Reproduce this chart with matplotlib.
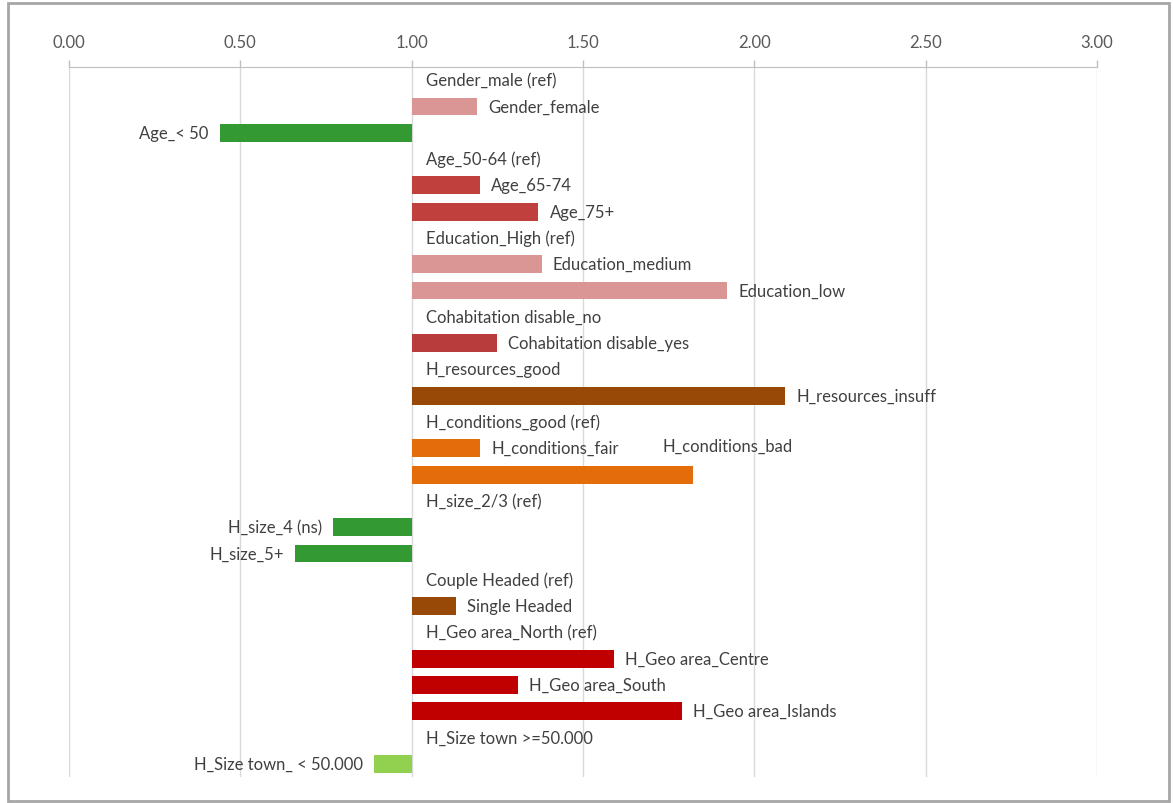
import matplotlib.pyplot as plt
from matplotlib.patches import Rectangle

plt.rcParams['font.family'] = ['Lato', 'DejaVu Sans']

# odds ratios, 1.00 = reference category (no bar drawn)
labels = [
    'Gender_male (ref)', 'Gender_female',
    'Age_< 50', 'Age_50-64 (ref)', 'Age_65-74', 'Age_75+',
    'Education_High (ref)', 'Education_medium', 'Education_low',
    'Cohabitation disable_no', 'Cohabitation disable_yes',
    'H_resources_good', 'H_resources_insuff',
    'H_conditions_good (ref)', 'H_conditions_fair', 'H_conditions_bad',
    'H_size_2/3 (ref)', 'H_size_4 (ns)', 'H_size_5+',
    'Couple Headed (ref)', 'Single Headed',
    'H_Geo area_North (ref)', 'H_Geo area_Centre', 'H_Geo area_South', 'H_Geo area_Islands',
    'H_Size town >=50.000', 'H_Size town_ < 50.000',
]
odds = [
    1.00, 1.19,
    0.44, 1.00, 1.20, 1.37,
    1.00, 1.38, 1.92,
    1.00, 1.25,
    1.00, 2.09,
    1.00, 1.20, 1.82,
    1.00, 0.77, 0.66,
    1.00, 1.13,
    1.00, 1.59, 1.31, 1.79,
    1.00, 0.89,
]
colors = [
    'none', '#DA9694',
    '#339933', 'none', '#C0403E', '#C0403E',
    'none', '#DA9694', '#DA9694',
    'none', '#B83C3C',
    'none', '#984807',
    'none', '#E46C0A', '#E46C0A',
    'none', '#339933', '#339933',
    'none', '#984807',
    'none', '#C00000', '#C00000', '#C00000',
    'none', '#92D050',
]
ticks = [0.0, 0.5, 1.0, 1.5, 2.0, 2.5, 3.0]

fig = plt.figure(figsize=(11.73, 8.04), dpi=100)
fig.patches.append(Rectangle((8 / 1173, 2 / 804), 1161 / 1173, 798 / 804,
                             transform=fig.transFigure, fill=False,
                             edgecolor='#A6A6A6', linewidth=2))

ax = fig.add_axes([69 / 1173, 1 - 778 / 804, 1028 / 1173, 710 / 804])
rows = list(range(len(labels)))
ax.barh(rows, [v - 1 for v in odds], left=1, height=0.68, color=colors, zorder=2)

txt = dict(fontsize=12, color='#404040', va='center')
for i, (lab, v) in enumerate(zip(labels, odds)):
    if lab == 'H_conditions_bad':
        ax.annotate(lab, (v, i), xytext=(-22, 21), textcoords='offset points', ha='left', **txt)
    elif v > 1:
        ax.annotate(lab, (v, i), xytext=(8, 0), textcoords='offset points', ha='left', **txt)
    elif v < 1:
        ax.annotate(lab, (v, i), xytext=(-8, 0), textcoords='offset points', ha='right', **txt)
    else:
        ax.annotate(lab, (1, i), xytext=(10, 0), textcoords='offset points', ha='left', **txt)

ax.set_xlim(0, 3)
ax.set_ylim(len(labels) - 0.5, -0.5)
ax.set_xticks(ticks)
ax.set_xticklabels([f'{t:.2f}' for t in ticks])
ax.xaxis.tick_top()
ax.tick_params(axis='x', length=5, width=1, color='#BFBFBF', labelsize=12,
               labelcolor='#595959', pad=7)
ax.set_yticks([])
ax.grid(axis='x', color='#D9D9D9', linewidth=1, zorder=0)
for side in ['right', 'bottom', 'left']:
    ax.spines[side].set_visible(False)
ax.spines['top'].set_color('#BFBFBF')

fig.savefig('out.png', dpi=100)
